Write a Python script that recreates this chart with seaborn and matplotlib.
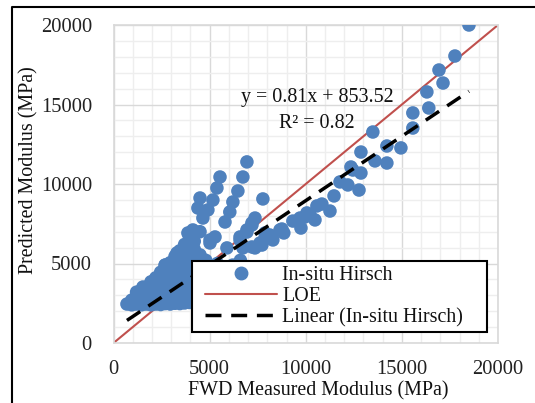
import matplotlib
matplotlib.use("Agg")
import matplotlib.pyplot as plt
from matplotlib.lines import Line2D
from matplotlib.patches import Rectangle
from matplotlib.ticker import MultipleLocator
import seaborn as sns
import pandas as pd
import numpy as np

# FWD-measured vs. predicted (In-situ Hirsch) moduli, MPa
measured = [
    18490, 17760, 16930, 17140, 16300, 16400, 15570, 15570, 13490, 14220,
    14950, 12870, 13600, 14220, 12350, 12450, 12870, 11780, 12190, 12770,
    11470, 10840, 10580, 11260, 10060, 10220, 9960, 9700, 10480, 9330,
    9750, 8760, 8860, 8140, 7880, 7620, 7200, 6730, 7360, 6940,
    5540, 6730, 5380, 6470, 4500, 5170, 7770, 4390, 4910, 6210,
    6050, 4650, 5800, 7360, 7200, 6940, 6580, 4130, 3870, 5280,
    5020, 4500, 5900, 6940, 6580, 7880, 8290, 8660, 7720, 5020,
    3300, 2680, 1530, 4080, 7200,
    700,
    950, 950,
    1200, 1200, 1200,
    1450, 1450, 1450,
    1700, 1700, 1700, 1700,
    1950, 1950, 1950, 1950, 1950,
    2200, 2200, 2200, 2200, 2200,
    2450, 2450, 2450, 2450, 2450, 2450,
    2700, 2700, 2700, 2700, 2700, 2700, 2700,
    2950, 2950, 2950, 2950, 2950, 2950, 2950,
    3200, 3200, 3200, 3200, 3200, 3200, 3200, 3200,
    3450, 3450, 3450, 3450, 3450, 3450, 3450, 3450,
    3700, 3700, 3700, 3700, 3700, 3700, 3700, 3700, 3700,
    3950, 3950, 3950, 3950, 3950, 3950, 3950, 3950, 3950, 3950,
    4200, 4200, 4200, 4200, 4200, 4200, 4200, 4200, 4200, 4200,
    4500, 4500, 4500, 4500, 4500, 4500, 4500,
    4800, 4800, 4800, 4800, 4800, 4800,
    5100, 5100, 5100, 5100, 5100,
    5400, 5400, 5400, 5400, 5400,
    5800, 5800, 5800, 5800,
    6200, 6200, 6200, 6200,
    6600, 6600, 6600, 6600,
    7000, 7000, 7000,
]
predicted = [
    20000, 18050, 17170, 16350, 15790, 14780, 14470, 13520, 13270, 12390,
    12270, 12010, 11450, 11320, 11070, 10880, 10690, 10130, 9940, 9620,
    9250, 8740, 8620, 8300, 8180, 8050, 7930, 7860, 7740, 7670,
    7230, 7170, 6920, 6790, 6600, 6290, 6040, 5980, 5980, 11390,
    10440, 10440, 9750, 9560, 9120, 8990, 9060, 8490, 8370, 8870,
    8240, 7860, 7610, 7860, 7420, 7110, 6670, 7110, 6920, 6670,
    6290, 5540, 5980, 6980, 6480, 6920, 6480, 7110, 6160, 6480,
    5660, 4900, 3520, 6920, 7550,
    2450,
    2400, 2700,
    2450, 2850, 3200,
    2400, 2800, 3300,
    2450, 2850, 3250, 3500,
    2400, 2800, 3200, 3600, 3850,
    2450, 2850, 3300, 3700, 4100,
    2420, 2800, 3200, 3650, 4050, 4450,
    2480, 2900, 3300, 3750, 4200, 4650, 4900,
    2450, 2850, 3250, 3700, 4150, 4550, 5050,
    2500, 2900, 3350, 3800, 4250, 4700, 5150, 5450,
    2480, 2950, 3400, 3850, 4300, 4800, 5300, 5800,
    2520, 2950, 3350, 3800, 4250, 4700, 5200, 5700, 6200,
    2550, 3000, 3450, 3900, 4400, 4850, 5350, 5800, 6300, 6700,
    2600, 3050, 3500, 4000, 4450, 4950, 5400, 5900, 6400, 6900,
    2650, 3100, 3600, 4100, 4550, 5000, 7000,
    2700, 3200, 3700, 4200, 4700, 5200,
    2800, 3300, 3800, 4300, 4800,
    2900, 3400, 3900, 4400, 5000,
    3000, 3500, 4000, 4600,
    3200, 3700, 4300, 4900,
    3400, 3900, 4500, 5200,
    3700, 4200, 4800,
]

# Linear fit reported on the chart
slope = 0.81
intercept = 853.52
r_squared = 0.82

axis_ticks = [0, 5000, 10000, 15000, 20000]
legend_labels = ["In-situ Hirsch", "LOE", "Linear (In-situ Hirsch)"]

df = pd.DataFrame({"FWD": measured, "Predicted": predicted})

sns.set_theme(style="white")
plt.rcParams["font.family"] = ["Liberation Serif", "DejaVu Serif"]

W, H = 535, 403
fig = plt.figure(figsize=(W / 100, H / 100), dpi=100)
ax = fig.add_axes([113.5 / W, 1 - 343 / H, (498 - 113.5) / W, (343 - 25) / H])

blue = "#4F81BD"
red = "#C0504D"
txt = "#111111"

# line of equality
ax.plot([0, 20000], [0, 20000], color=red, lw=1.5, zorder=2)

sns.scatterplot(data=df, x="FWD", y="Predicted", ax=ax, color=blue,
                s=95, edgecolor="none", linewidth=0, zorder=3, legend=False)

# fitted trend line over the measured range
xf = np.array([min(measured), max(measured)])
ax.plot(xf, slope * xf + intercept, color="black", lw=2.5,
        dashes=(4.6, 2.8), zorder=4)

ax.set_xlim(0, 20000)
ax.set_ylim(0, 20000)
ax.set_xticks(axis_ticks)
ax.set_yticks(axis_ticks)
ax.xaxis.set_minor_locator(MultipleLocator(1000))
ax.yaxis.set_minor_locator(MultipleLocator(1000))
ax.grid(which="major", color="#D9D9D9", lw=1.0, zorder=0)
ax.grid(which="minor", color="#EEEEEE", lw=1.0, zorder=0)
ax.set_axisbelow(True)
for sp in ax.spines.values():
    sp.set_color("#D9D9D9")
    sp.set_linewidth(1.2)
ax.tick_params(which="both", length=0, labelsize=14.8, colors="#222222")
ax.tick_params(axis="y", pad=15.5)
ax.tick_params(axis="x", pad=12.5)

ax.set_xlabel("FWD Measured Modulus (MPa)", fontsize=14.4, color=txt)
ax.set_ylabel("Predicted Modulus (MPa)", fontsize=14.4, color=txt)
ax.xaxis.set_label_coords((318 - 113.5) / 384.5, (343 - 391) / 318)
ax.yaxis.set_label_coords((29 - 113.5) / 384.5, (343 - 170) / 318)
ax.xaxis.label.set_va("center")
ax.yaxis.label.set_va("center")

ax.text(10580, 15470, f"y = {slope}x + {intercept}", ha="center", va="center",
        fontsize=14.4, color=txt, zorder=5)
ax.text(10580, 13800, f"R² = {r_squared}", ha="center", va="center",
        fontsize=14.4, color=txt, zorder=5)

# legend box: opaque white panel with black frame
box = Rectangle((192 / W, 1 - 332 / H), (487 - 192) / W, (332 - 261) / H,
                transform=fig.transFigure, facecolor="white", edgecolor="black",
                lw=1.5, zorder=9, clip_on=False)
ax.add_patch(box)

handles = [
    Line2D([], [], marker="o", ls="none", color=blue, markersize=9),
    Line2D([], [], color=red, lw=1.5),
    Line2D([], [], color="black", lw=2.5, dashes=(4.6, 2.8)),
]
leg = ax.legend(handles, legend_labels, loc="upper left",
                bbox_to_anchor=(205 / W, 1 - 266 / H), bbox_transform=fig.transFigure,
                fontsize=14.4, frameon=False, borderpad=0, labelspacing=0.1,
                handlelength=3.6, handletextpad=0.25, borderaxespad=0)
leg.set_zorder(10)
for t in leg.get_texts():
    t.set_color(txt)

# outer chart border
fig.add_artist(Line2D([12 / W, 12 / W, 1.0], [0, 1 - 7 / H, 1 - 7 / H],
                      transform=fig.transFigure, color="black", lw=1.5))

fig.savefig("out.png", dpi=100, facecolor="white")
